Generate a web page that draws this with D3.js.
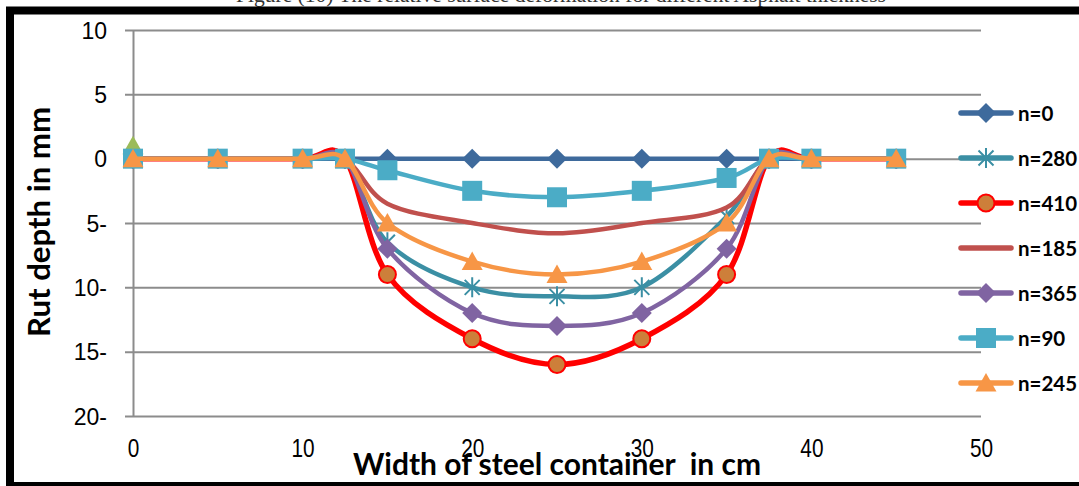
<!DOCTYPE html>
<html>
<head>
<meta charset="utf-8">
<script src="https://cdn.jsdelivr.net/npm/d3@7"></script>
<style>
  html, body { margin: 0; padding: 0; background: #fff; }
  svg { display: block; }
</style>
</head>
<body>
<svg id="chart" width="1079" height="486"></svg>
<script>
// Transverse positions across the container (cm)
const widths = [0, 5, 10, 12.5, 15, 20, 25, 30, 35, 37.5, 40, 45];

// Rut depth (mm) after n load passes
const rutN0   = [0, 0, 0, 0,  0,    0,    0,     0,    0,   0, 0, 0];
const rutN280 = [0, 0, 0, 0, -6.5, -10,  -10.7, -10,  -4.5, 0, 0, 0];
const rutN410 = [0, 0, 0, 0, -9,   -14,  -16,   -14,  -9,   0, 0, 0];
const rutN185 = [0, 0, 0, 0, -3.5, -5,   -5.8,  -5,   -3.8, 0, 0, 0];
const rutN365 = [0, 0, 0, 0, -7,   -12,  -13,   -12,  -7,   0, 0, 0];
const rutN90  = [0, 0, 0, 0, -0.9, -2.5, -3,    -2.5, -1.5, 0, 0, 0];
const rutN245 = [0, 0, 0, 0, -5,   -8,   -9,    -8,   -5,   0, 0, 0];

// Single reference reading at the container edge
const edgeWidth = [0];
const edgeRise  = [1];

const legendNames = ["n=0", "n=280", "n=410", "n=185", "n=365", "n=90", "n=245"];
const xTicks = [0, 10, 20, 30, 40, 50];
const yTicks = [10, 5, 0, -5, -10, -15, -20];

const series = [
  { name: "n=0",   xs: widths, ys: rutN0,   color: "#3e6a9c", width: 4.5, marker: "diamond" },
  { name: "n=280", xs: widths, ys: rutN280, color: "#3b8fa4", width: 4.5, marker: "star" },
  { name: "n=410", xs: widths, ys: rutN410, color: "#ff0000", width: 5.5, marker: "circle", fill: "#cd7f3a" },
  { name: "n=185", xs: widths, ys: rutN185, color: "#c0504d", width: 4.5, marker: null },
  { name: "n=365", xs: widths, ys: rutN365, color: "#8064a2", width: 4.5, marker: "diamond" },
  { name: "edge",  xs: edgeWidth, ys: edgeRise, color: "#9bbb59", width: 0, marker: "triangle" },
  { name: "n=90",  xs: widths, ys: rutN90,  color: "#4bacc6", width: 4.5, marker: "square" },
  { name: "n=245", xs: widths, ys: rutN245, color: "#f79646", width: 4.5, marker: "triangle" }
];

const svg = d3.select("#chart");

// Caption line of the figure (mostly above the page top)
svg.append("text")
  .attr("x", 236).attr("y", 2)
  .attr("font-family", "'Liberation Serif', 'Times New Roman', serif")
  .attr("font-size", 20)
  .attr("fill", "#333")
  .attr("textLength", 650).attr("lengthAdjust", "spacingAndGlyphs")
  .text("Figure (10) The relative surface deformation for different Asphalt thickness");

// Frame
svg.append("rect")
  .attr("x", 10).attr("y", 10.5)
  .attr("width", 1080).attr("height", 475.5)
  .attr("fill", "none").attr("stroke", "#000").attr("stroke-width", 8);

const x = d3.scaleLinear().domain([0, 50]).range([133, 981]);
const y = d3.scaleLinear().domain([-20, 10]).range([416, 30]);

const gridColor = "#8c8c8c";

// Horizontal gridlines (including the tick stubs left of the axis)
const grid = svg.append("g").attr("transform", "translate(125,0)")
  .call(d3.axisLeft(y).tickValues(yTicks).tickSize(-(981 - 125)).tickFormat(""));
grid.select(".domain").remove();
grid.selectAll("line").attr("stroke", gridColor).attr("stroke-width", 2);

// Y axis
const fmtY = v => v < 0 ? `${-v}-` : `${v}`;
const yAxis = svg.append("g").attr("transform", "translate(133,0)")
  .call(d3.axisLeft(y).tickValues(yTicks).tickSize(0).tickSizeOuter(0).tickPadding(26).tickFormat(fmtY));
yAxis.select(".domain").attr("stroke", gridColor).attr("stroke-width", 2);
yAxis.selectAll("text")
  .attr("font-family", "'Liberation Sans', Arial, sans-serif")
  .attr("font-size", 23).attr("fill", "#000").attr("dy", "0.36em");

// X axis labels (condensed face)
const xAxis = svg.append("g").attr("transform", "translate(0,416)")
  .call(d3.axisBottom(x).tickValues(xTicks).tickSize(0).tickSizeOuter(0));
xAxis.select(".domain").remove();
xAxis.selectAll("text")
  .attr("y", 0).attr("dy", 0)
  .attr("transform", "translate(0,41) scale(0.8,1)")
  .attr("font-family", "'Liberation Sans', Arial, sans-serif")
  .attr("font-size", 26).attr("fill", "#000");

// Axis titles
svg.append("text")
  .attr("transform", "translate(50,222) rotate(-90)")
  .attr("text-anchor", "middle")
  .attr("font-family", "Lato, 'Open Sans', sans-serif")
  .attr("font-weight", "bold").attr("font-size", 31)
  .attr("textLength", 230).attr("lengthAdjust", "spacingAndGlyphs")
  .text("Rut depth in mm");

svg.append("text")
  .attr("x", 557).attr("y", 475)
  .attr("text-anchor", "middle")
  .style("white-space", "pre")
  .attr("font-family", "Lato, 'Open Sans', sans-serif")
  .attr("font-weight", "bold").attr("font-size", 30)
  .attr("textLength", 408).attr("lengthAdjust", "spacingAndGlyphs")
  .text("Width of steel container  in cm");

// Marker drawing
function drawMarker(g, type, cx, cy, s) {
  const color = s.color;
  if (type === "diamond") {
    g.append("path").attr("d", `M${cx},${cy - 10}L${cx + 10},${cy}L${cx},${cy + 10}L${cx - 10},${cy}Z`)
      .attr("fill", color);
  } else if (type === "square") {
    g.append("rect").attr("x", cx - 10).attr("y", cy - 10).attr("width", 20).attr("height", 20)
      .attr("fill", color);
  } else if (type === "triangle") {
    g.append("path").attr("d", `M${cx},${cy - 10}L${cx + 10.5},${cy + 8.5}L${cx - 10.5},${cy + 8.5}Z`)
      .attr("fill", color);
  } else if (type === "circle") {
    g.append("circle").attr("cx", cx).attr("cy", cy).attr("r", 8.5)
      .attr("fill", s.fill).attr("stroke", color).attr("stroke-width", 2);
  } else if (type === "star") {
    const r = 10, d = 7.5;
    g.append("path")
      .attr("d", `M${cx},${cy - r}L${cx},${cy + r}M${cx - d},${cy - d}L${cx + d},${cy + d}M${cx - d},${cy + d}L${cx + d},${cy - d}`)
      .attr("stroke", color).attr("stroke-width", 2).attr("fill", "none");
  }
}

const line = d3.line().curve(d3.curveCardinal.tension(0));
const plot = svg.append("g");

series.forEach(s => {
  const pts = s.xs.map((v, i) => [x(v), y(s.ys[i])]);
  const g = plot.append("g");
  if (s.width > 0 && pts.length > 1) {
    g.append("path").attr("d", line(pts))
      .attr("fill", "none").attr("stroke", s.color)
      .attr("stroke-width", s.width).attr("stroke-linejoin", "round").attr("stroke-linecap", "round");
  }
  if (s.marker) pts.forEach(p => drawMarker(g, s.marker, p[0], p[1], s));
});

// Legend
const legendTop = 113, legendStep = 45;
const legend = svg.append("g");
legendNames.forEach((name, i) => {
  const s = series.find(d => d.name === name);
  const ly = legendTop + i * legendStep;
  const g = legend.append("g");
  g.append("line").attr("x1", 961).attr("x2", 1011).attr("y1", ly).attr("y2", ly)
    .attr("stroke", s.color).attr("stroke-width", 5.5).attr("stroke-linecap", "round");
  if (s.marker) drawMarker(g, s.marker, 986, ly, s);
  g.append("text").attr("x", 1018).attr("y", ly + 8)
    .attr("font-family", "Lato, 'Open Sans', sans-serif")
    .attr("font-weight", "bold").attr("font-size", 20.5).attr("fill", "#000")
    .text(name);
});
</script>
</body>
</html>
